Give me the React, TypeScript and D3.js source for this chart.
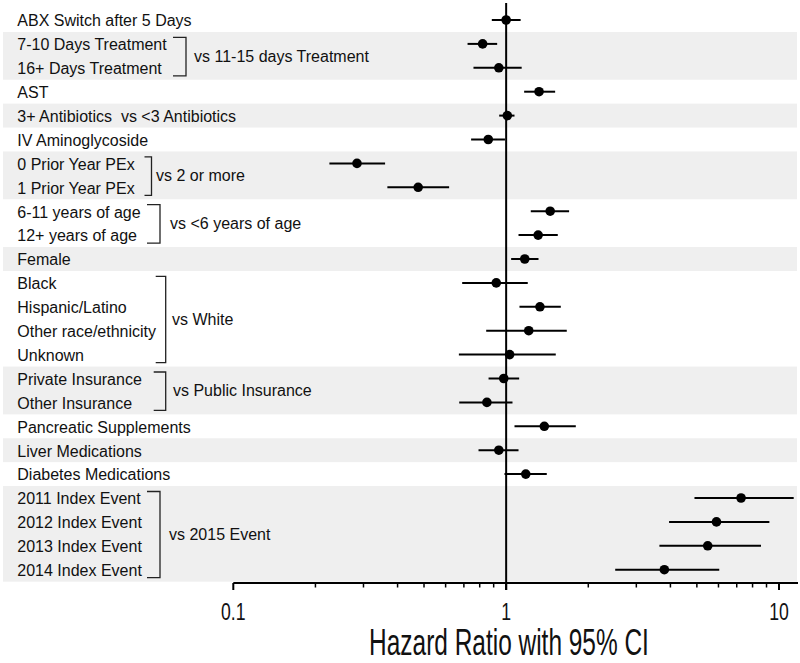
import React from "react";
import * as d3 from "d3";

const labels = [
  "ABX Switch after 5 Days",
  "7-10 Days Treatment",
  "16+ Days Treatment",
  "AST",
  "3+ Antibiotics  vs <3 Antibiotics",
  "IV Aminoglycoside",
  "0 Prior Year PEx",
  "1 Prior Year PEx",
  "6-11 years of age",
  "12+ years of age",
  "Female",
  "Black",
  "Hispanic/Latino",
  "Other race/ethnicity",
  "Unknown",
  "Private Insurance",
  "Other Insurance",
  "Pancreatic Supplements",
  "Liver Medications",
  "Diabetes Medications",
  "2011 Index Event",
  "2012 Index Event",
  "2013 Index Event",
  "2014 Index Event",
];
const hr = [1.0, 0.82, 0.94, 1.32, 1.01, 0.86, 0.284, 0.476, 1.45, 1.31, 1.17, 0.92, 1.33, 1.21, 1.03, 0.98, 0.85, 1.38, 0.94, 1.18, 7.26, 5.9, 5.48, 3.8];
const lo = [0.886, 0.722, 0.759, 1.164, 0.943, 0.744, 0.225, 0.367, 1.231, 1.11, 1.043, 0.69, 1.119, 0.845, 0.671, 0.862, 0.673, 1.073, 0.792, 0.986, 4.9, 3.955, 3.645, 2.51];
const hi = [1.13, 0.927, 1.14, 1.512, 1.073, 0.99, 0.36, 0.618, 1.701, 1.546, 1.314, 1.2, 1.586, 1.668, 1.52, 1.116, 1.055, 1.8, 1.11, 1.409, 11.32, 9.22, 8.59, 6.04];

const bandFrom = [1, 4, 6, 10, 15, 18, 20];
const bandTo = [2, 4, 7, 10, 16, 18, 23];

const groupText = ["vs 11-15 days Treatment", "vs 2 or more", "vs <6 years of age", "vs White", "vs Public Insurance", "vs 2015 Event"];
const groupFrom = [1, 6, 8, 11, 15, 20];
const groupTo = [2, 7, 9, 14, 16, 23];

const majorTicks = [0.1, 1, 10];
const tickLabels = ["0.1", "1", "10"];
const minorTicks = [0.2, 0.3, 0.4, 0.5, 0.6, 0.7, 0.8, 0.9, 2, 3, 4, 5, 6, 7, 8, 9];

const axisTitle = "Hazard Ratio with 95% CI";

// layout (not data)
const bracketX = [186, 151.5, 160, 165.7, 165.7, 160];
const bracketArm = [13, 7, 13, 10, 12, 13];
const bracketTextX = [194, 156, 170, 172, 173, 169];

export default function App() {
  const W = 800;
  const H = 663;
  const x = d3.scaleLog().domain([0.1, 10]).range([233.3, 779]);
  const y = d3.scaleLinear().domain([0, labels.length - 1]).range([20, 569.7]);
  const half = (y(1) - y(0)) / 2;
  const axisY = 583;
  const font = "'Liberation Sans', Arial, sans-serif";

  return (
    <svg
      width={W}
      height={H}
      viewBox={`0 0 ${W} ${H}`}
      style={{ position: "absolute", left: 0, top: 0, background: "#fff" }}
      fontFamily={font}
    >
      {/* shaded bands */}
      {bandFrom.map((f, i) => (
        <rect
          key={"b" + i}
          x={3}
          y={y(f) - half}
          width={794}
          height={y(bandTo[i]) - y(f) + 2 * half}
          fill="#efefef"
        />
      ))}

      {/* reference line at 1 */}
      <line x1={x(1)} x2={x(1)} y1={3} y2={axisY + 7} stroke="#000" strokeWidth={2} />

      {/* row labels */}
      {labels.map((l, i) => (
        <text key={"l" + i} x={17.3} y={y(i) + 6.3} fontSize={16} fill="#111" style={{ whiteSpace: "pre" }}>
          {l}
        </text>
      ))}

      {/* brackets */}
      {groupText.map((t, i) => {
        const top = y(groupFrom[i]) - 6.5;
        const bot = y(groupTo[i]) + 8;
        const bx = bracketX[i];
        const ax = bx - bracketArm[i];
        const mid = (y(groupFrom[i]) + y(groupTo[i])) / 2;
        return (
          <g key={"g" + i}>
            <path
              d={`M${ax},${top}H${bx}V${bot}H${ax}`}
              fill="none"
              stroke="#222"
              strokeWidth={1.3}
            />
            <text x={bracketTextX[i]} y={mid + 6} fontSize={16} fill="#111">
              {t}
            </text>
          </g>
        );
      })}

      {/* CI lines and points */}
      {hr.map((v, i) => (
        <g key={"p" + i}>
          <line x1={x(lo[i])} x2={x(hi[i])} y1={y(i)} y2={y(i)} stroke="#000" strokeWidth={2} />
          <circle cx={x(v)} cy={y(i)} r={4.8} fill="#000" />
        </g>
      ))}

      {/* axis */}
      <line x1={x(0.1)} x2={798} y1={axisY} y2={axisY} stroke="#000" strokeWidth={2} />
      {majorTicks.map((t, i) => (
        <g key={"mt" + i}>
          <line x1={x(t)} x2={x(t)} y1={axisY} y2={axisY + 7} stroke="#000" strokeWidth={2} />
          <text
            transform={`translate(${x(t)},${620}) scale(0.75,1)`}
            textAnchor="middle"
            fontSize={23.5}
            fill="#111"
          >
            {tickLabels[i]}
          </text>
        </g>
      ))}
      {minorTicks.map((t, i) => (
        <line key={"mn" + i} x1={x(t)} x2={x(t)} y1={axisY} y2={axisY + 4.5} stroke="#000" strokeWidth={1.5} />
      ))}
      <text
        transform={`translate(${509},${655}) scale(0.67,1)`}
        textAnchor="middle"
        fontSize={36.5}
        fill="#111"
      >
        {axisTitle}
      </text>
    </svg>
  );
}
